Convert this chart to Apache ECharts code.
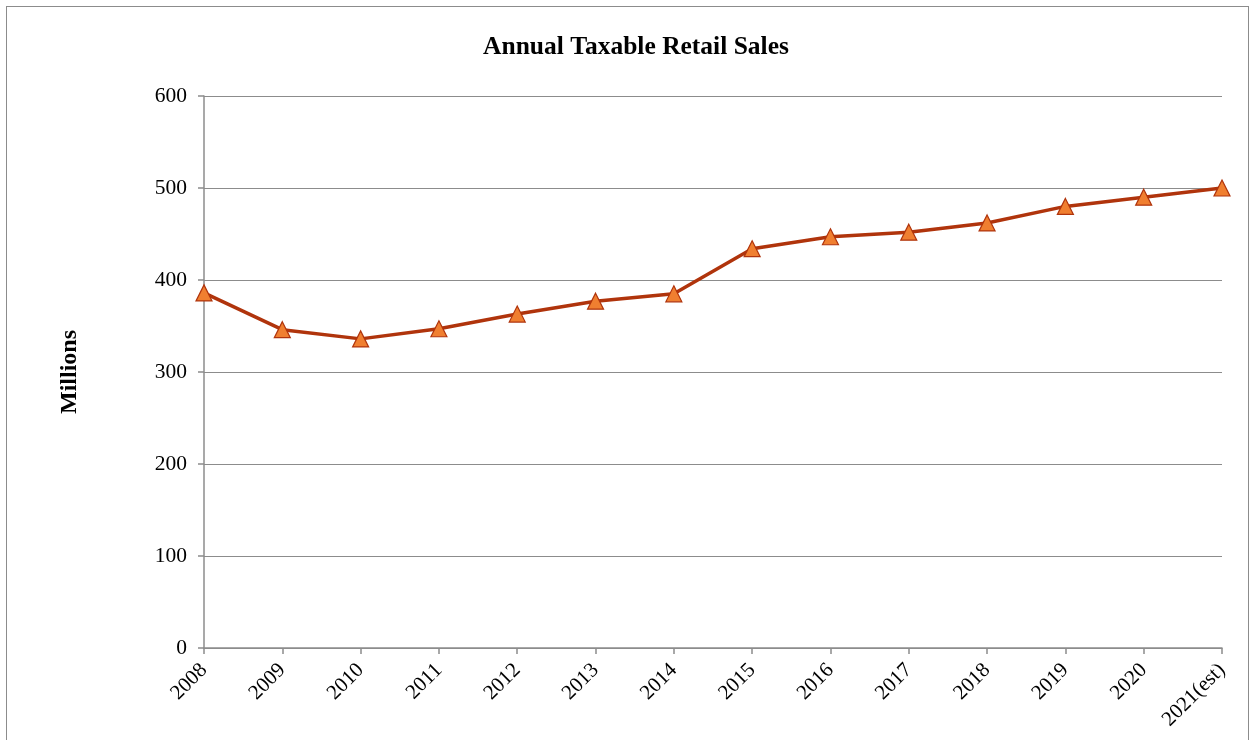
<!DOCTYPE html>
<html><head><meta charset="utf-8">
<script src="https://cdn.jsdelivr.net/npm/echarts@6/dist/echarts.min.js"></script>
<style>
html,body{margin:0;padding:0;background:#fff;}
#frame{position:absolute;left:6px;top:6px;width:1243px;height:760px;border:1.5px solid #8c8c8c;box-sizing:border-box;}
#c{position:absolute;left:0;top:0;width:1253px;height:740px;}
</style>
</head><body>
<div id="frame"></div>
<div id="c"></div>
<script>
const categories = ['2008','2009','2010','2011','2012','2013','2014','2015','2016','2017','2018','2019','2020','2021(est)'];
const salesMillions = [386, 346, 336, 347, 363, 377, 385, 434, 447, 452, 462, 480, 490, 500];
const yTicks = {min: 0, max: 600, interval: 100};

const chart = echarts.init(document.getElementById('c'), null, {renderer: 'canvas'});
const font = '"Liberation Serif", "Times New Roman", serif';
chart.setOption({
  backgroundColor: 'transparent',
  animation: false,
  title: {
    text: 'Annual Taxable Retail Sales',
    left: 631, top: 29, textAlign: 'center',
    textStyle: {fontFamily: font, fontWeight: 'bold', fontSize: 25.5, color: '#000'}
  },
  grid: {left: 204, right: 31, top: 96, bottom: 92, containLabel: false},
  xAxis: {
    type: 'category', data: categories, boundaryGap: false,
    axisLine: {lineStyle: {color: '#8c8c8c', width: 1.5}},
    axisTick: {show: true, alignWithLabel: true, length: 6, lineStyle: {color: '#8c8c8c', width: 1.5}},
    axisLabel: {rotate: 45, fontFamily: font, fontSize: 21, color: '#000', margin: 19, interval: 0},
    splitLine: {show: false}
  },
  yAxis: {
    type: 'value', min: yTicks.min, max: yTicks.max, interval: yTicks.interval,
    name: 'Millions', nameLocation: 'middle', nameGap: 122, nameRotate: 90,
    nameTextStyle: {fontFamily: font, fontWeight: 'bold', fontSize: 24, color: '#000'},
    axisLine: {show: true, lineStyle: {color: '#8c8c8c', width: 1.5}},
    axisTick: {show: true, length: 6, lineStyle: {color: '#8c8c8c', width: 1.5}},
    axisLabel: {fontFamily: font, fontSize: 21.5, color: '#000', margin: 17},
    splitLine: {show: true, lineStyle: {color: '#8c8c8c', width: 1.2}}
  },
  series: [{
    type: 'line', data: salesMillions,
    symbol: 'triangle', symbolSize: 16,
    lineStyle: {color: '#b0340c', width: 3.5},
    itemStyle: {color: '#f07f30', borderColor: '#b0340c', borderWidth: 1.2},
    z: 3
  }]
});
</script>
</body></html>
